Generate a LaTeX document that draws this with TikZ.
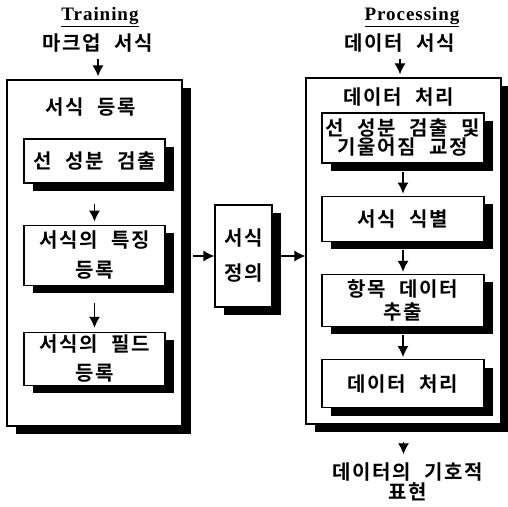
\documentclass[tikz,border=0pt]{standalone}
\usepackage{fontspec}
\setmainfont{Liberation Serif}
\newfontfamily\kr{Noto Sans CJK KR Bold}[LetterSpace=8,WordSpace=2.2]
\newfontfamily\hd{Liberation Serif}[LetterSpace=5]
\usetikzlibrary{arrows.meta,positioning,shadows}

\begin{document}
\begin{tikzpicture}[x=1pt,y=1pt,->,>={Latex[length=11pt,width=11pt]},line width=1.2pt,
		box/.style={draw,fill=white,inner sep=0pt,align=center,
			drop shadow={shadow xshift=9pt,shadow yshift=-8pt,fill=black,opacity=1}},
		lbl/.style={inner sep=2pt,align=center},
		head/.style={font=\hd\bfseries\fontsize{19}{22}\selectfont},
		node font=\kr\fontsize{20}{23}\selectfont]
	\useasboundingbox (0,0) rectangle (508,-506);

	% training side
	\node[head] (train) at (100,-17) {\underline{Training}};
	\node[lbl] (tin) at (98,-43) {마크업 서식};
	\node[box,minimum width=175pt,minimum height=346pt] (L) at (94.5,-253) {};
	\node[lbl] (Lt) at (91,-107) {서식 등록};
	\node[box,minimum width=141pt,minimum height=44pt] (l1) at (94.5,-161) {선 성분 검출};
	\node[box,minimum width=141pt,minimum height=60pt] (l2) [below=41pt of l1] {서식의 특징\\[7pt]등록};
	\node[box,minimum width=141pt,minimum height=53pt] (l3) [below=46pt of l2] {서식의 필드\\[6pt]등록};

	% middle
	\node[box,minimum width=57pt,minimum height=102pt] (M) at (243.5,-256) {서식\\[12pt]정의};

	% processing side
	\node[head] (proc) at (412,-17) {\underline{Processing}};
	\node[lbl] (din) at (400,-43) {데이터 서식};
	\node[box,minimum width=195pt,minimum height=346pt] (R) at (403.5,-251) {};
	\node[lbl] (Rt) at (399,-97) {데이터 처리};
	\node[box,minimum width=162pt,minimum height=50pt] (r1) at (403,-138) {선 성분 검출 및\\[-4pt]기울어짐 교정};
	\node[box,minimum width=162pt,minimum height=45pt] (r2) [below=32pt of r1] {서식 식별};
	\node[box,minimum width=162pt,minimum height=52pt] (r3) [below=32pt of r2] {항목 데이터\\[0pt]추출};
	\node[box,minimum width=162pt,minimum height=48pt] (r4) [below=32pt of r3] {데이터 처리};
	\node[lbl] (out) at (408,-482) {데이터의 기호적\\[-3pt]표현};

	\draw[shorten <=4pt,shorten >=3pt] (tin.south) -- (tin.south |- L.north);
	\draw[shorten <=20pt,shorten >=3pt] (l1) -- (l2);
	\draw[shorten <=17pt,shorten >=4pt] (l2) -- (l3);
	\draw[shorten <=10pt] (L.east |- M.west) -- (M.west);
	\draw[shorten <=8pt] (M.east) -- (M.east -| R.west);
	\draw[shorten <=4pt,shorten >=3pt] (din.south) -- (din.south |- R.north);
	\draw[shorten <=8pt,shorten >=2pt] (r1) -- (r2);
	\draw[shorten <=8pt,shorten >=2pt] (r2) -- (r3);
	\draw[shorten <=8pt,shorten >=2pt] (r3) -- (r4);
	\draw[shorten <=17pt,shorten >=6pt] (R.south) -- (R.south |- out.north);
\end{tikzpicture}
\end{document}
